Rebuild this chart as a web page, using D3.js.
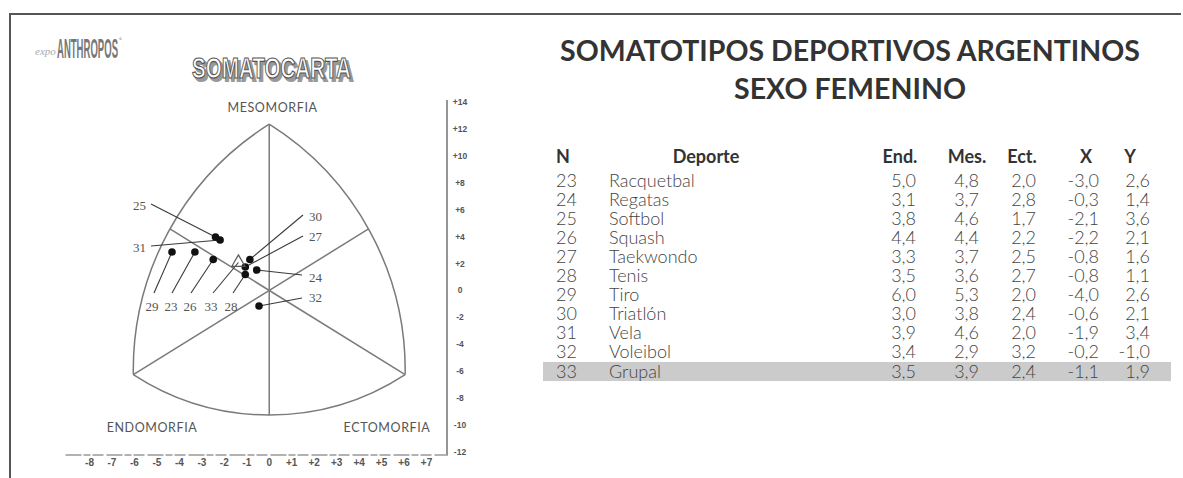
<!DOCTYPE html>
<html>
<head>
<meta charset="utf-8">
<script src="https://cdn.jsdelivr.net/npm/d3@7"></script>
<style>
body { margin: 0; background: #fff; }
svg text { font-family: "Lato", "Open Sans", sans-serif; }
</style>
</head>
<body>
<div id="chart"></div>
<script>
// table rows (N, sport, somatotype components, chart coordinates)
const ids = [23, 24, 25, 26, 27, 28, 29, 30, 31, 32, 33]
const sports = ["Racquetbal", "Regatas", "Softbol", "Squash", "Taekwondo", "Tenis", "Tiro", "Triatlón", "Vela", "Voleibol", "Grupal"]
const endo = [5.0, 3.1, 3.8, 4.4, 3.3, 3.5, 6.0, 3.0, 3.9, 3.4, 3.5]
const meso = [4.8, 3.7, 4.6, 4.4, 3.7, 3.6, 5.3, 3.8, 4.6, 2.9, 3.9]
const ecto = [2.0, 2.8, 1.7, 2.2, 2.5, 2.7, 2.0, 2.4, 2.0, 3.2, 2.4]
const xVals = [-3.0, -0.3, -2.1, -2.2, -0.8, -0.8, -4.0, -0.6, -1.9, -0.2, -1.1]
const yVals = [2.6, 1.4, 3.6, 2.1, 1.6, 1.1, 2.6, 2.1, 3.4, -1.0, 1.9]
const groupId = 33

const xTicks = d3.range(-8, 8)
const yTicks = d3.range(14, -13, -2)
const headers = ["N", "Deporte", "End.", "Mes.", "Ect.", "X", "Y"]

// somatochart outline, in chart units
const apex = [0, 12.35], bottom = [0, -9.25]
const leftC = [-6.05, -6.25], rightC = [6.05, -6.25]
const leftMid = [-4.42, 4.57], rightMid = [4.42, 4.57]

const W = 1183, H = 478
const svg = d3.select("#chart").append("svg")
    .attr("width", W).attr("height", H)
svg.append("rect").attr("width", W).attr("height", H).attr("fill", "#fff")

// page frame
svg.append("path")
    .attr("d", "M10,478 V14 H1181")
    .attr("fill", "none").attr("stroke", "#555").attr("stroke-width", 2)

// scales of the printed axes
const x = d3.scaleLinear().domain([-8, 7]).range([89.5, 426.5])
const y = d3.scaleLinear().domain([-12, 14]).range([452, 102])
// the dots in the original sit a little off the printed ticks, so they get their own scale
const px = d3.scaleLinear().domain([-8, 7]).range([80.4, 423.9])
const py = d3.scaleLinear().domain([-12, 14]).range([471, 81])

const P = p => [x(p[0]), y(p[1])]

function circle3(a, b, c) {
    const d = 2 * (a[0] * (b[1] - c[1]) + b[0] * (c[1] - a[1]) + c[0] * (a[1] - b[1]))
    const A = a[0] * a[0] + a[1] * a[1], B = b[0] * b[0] + b[1] * b[1], C = c[0] * c[0] + c[1] * c[1]
    const ux = (A * (b[1] - c[1]) + B * (c[1] - a[1]) + C * (a[1] - b[1])) / d
    const uy = (A * (c[0] - b[0]) + B * (a[0] - c[0]) + C * (b[0] - a[0])) / d
    return Math.hypot(a[0] - ux, a[1] - uy)
}
function arcPath(s, m, e) {
    s = P(s); m = P(m); e = P(e)
    const r = circle3(s, m, e)
    const cross = (m[0] - s[0]) * (e[1] - m[1]) - (m[1] - s[1]) * (e[0] - m[0])
    return `M${s[0]},${s[1]} A${r},${r} 0 0 ${cross > 0 ? 1 : 0} ${e[0]},${e[1]}`
}

const frame = svg.append("g").attr("fill", "none").attr("stroke", "#7a7a7a").attr("stroke-width", 1.5)
frame.append("path").attr("d", arcPath(apex, leftMid, leftC))
frame.append("path").attr("d", arcPath(apex, rightMid, rightC))
frame.append("path").attr("d", arcPath(leftC, bottom, rightC))
frame.append("path").attr("d", d3.line()([P(apex), P(bottom)]))
frame.append("path").attr("d", d3.line()([P(leftC), P(rightMid)]))
frame.append("path").attr("d", d3.line()([P(rightC), P(leftMid)]))

// axes: right vertical + dashed bottom
svg.append("line")
    .attr("x1", 447).attr("x2", 447).attr("y1", 100).attr("y2", 455)
    .attr("stroke", "#8a8a8a").attr("stroke-width", 1.8)
svg.append("line")
    .attr("x1", x(-8) - 24).attr("x2", 448).attr("y1", 455).attr("y2", 455)
    .attr("stroke", "#999").attr("stroke-width", 1.5).attr("stroke-dasharray", "16,2,7,2,11,3")

svg.append("g").selectAll("text").data(xTicks).join("text")
    .attr("x", d => x(d)).attr("y", 466)
    .attr("text-anchor", "middle")
    .style("font-family", "'Liberation Sans Narrow', 'Liberation Sans', sans-serif")
    .style("font-weight", "bold").style("font-size", "10px").attr("fill", "#555")
    .text(d => d > 0 ? "+" + d : String(d))

svg.append("g").selectAll("text").data(yTicks).join("text")
    .attr("x", 460).attr("y", d => y(d) + 3)
    .attr("text-anchor", "middle")
    .style("font-family", "'Liberation Sans Narrow', 'Liberation Sans', sans-serif")
    .style("font-weight", "bold").style("font-size", "8.5px").attr("fill", "#555")
    .text(d => d > 0 ? "+" + d : String(d))

// corner names
const cornerFont = "'Lato', 'Open Sans', sans-serif"
const corners = [["MESOMORFIA", 272.5, 112], ["ENDOMORFIA", 152, 432], ["ECTOMORFIA", 387, 432]]
svg.append("g").selectAll("text").data(corners).join("text")
    .attr("x", d => d[1]).attr("y", d => d[2])
    .attr("text-anchor", "middle")
    .style("font-family", cornerFont).style("font-size", "12.5px")
    .style("letter-spacing", "0.6px").attr("fill", "#555")
    .text(d => d[0])

// logo + chart title
svg.append("text").attr("x", 35).attr("y", 55)
    .style("font-family", "'Liberation Serif', serif").style("font-style", "italic")
    .style("font-size", "11px").attr("fill", "#aaa").text("expo")
svg.append("text").attr("x", 57).attr("y", 58)
    .style("font-family", "'Liberation Sans Narrow', 'Liberation Sans', sans-serif")
    .style("font-weight", "bold").style("font-size", "28px").attr("fill", "#777")
    .attr("textLength", 61).attr("lengthAdjust", "spacingAndGlyphs").text("ANTHROPOS")
svg.append("text").attr("x", 119).attr("y", 43).style("font-size", "7px").attr("fill", "#888").text("°")

const titleAttrs = sel => sel.attr("y", 78)
    .style("font-family", "'Liberation Sans Narrow', 'Liberation Sans', sans-serif")
    .style("font-weight", "bold").style("font-size", "29px")
    .attr("textLength", 159).attr("lengthAdjust", "spacingAndGlyphs").text("SOMATOCARTA")
svg.append("text").call(titleAttrs).attr("x", 194.5).attr("y", 80.5)
    .attr("fill", "#999").attr("stroke", "#999").attr("stroke-width", 2)
svg.append("text").call(titleAttrs).attr("x", 192)
    .attr("fill", "#fff").attr("stroke", "#555").attr("stroke-width", 1.2)

// data markers
const rows = ids.map((id, i) => ({ id, sport: sports[i], endo: endo[i], meso: meso[i], ecto: ecto[i], X: xVals[i], Y: yVals[i] }))
const byId = Object.fromEntries(rows.map(r => [r.id, r]))

// label placement (pixels): text anchor point, and the end of the leader line next to the text
const callouts = [
    { id: 25, tx: 146, ty: 205, anchor: "end", lx: 151, ly: 204 },
    { id: 31, tx: 146, ty: 247, anchor: "end", lx: 151, ly: 246 },
    { id: 30, tx: 309, ty: 216, anchor: "start", lx: 303, ly: 215 },
    { id: 27, tx: 309, ty: 236, anchor: "start", lx: 303, ly: 236 },
    { id: 24, tx: 309, ty: 277, anchor: "start", lx: 302, ly: 275 },
    { id: 32, tx: 309, ty: 297, anchor: "start", lx: 302, ly: 298 },
    { id: 29, tx: 152, ty: 306, anchor: "middle", lx: 154, ly: 293 },
    { id: 23, tx: 171, ty: 306, anchor: "middle", lx: 172, ly: 293 },
    { id: 26, tx: 190, ty: 306, anchor: "middle", lx: 191, ly: 293 },
    { id: 33, tx: 211, ty: 306, anchor: "middle", lx: 213, ly: 293 },
    { id: 28, tx: 231, ty: 306, anchor: "middle", lx: 233, ly: 293 }
]

svg.append("g").selectAll("line").data(callouts).join("line")
    .attr("x1", d => d.lx).attr("y1", d => d.ly)
    .attr("x2", d => px(byId[d.id].X)).attr("y2", d => py(byId[d.id].Y))
    .attr("stroke", "#3a3a3a").attr("stroke-width", 1.1)

svg.append("g").selectAll("circle").data(rows.filter(r => r.id !== groupId)).join("circle")
    .attr("cx", d => px(d.X)).attr("cy", d => py(d.Y)).attr("r", 3.8)
    .attr("fill", "#111")

svg.append("path")
    .attr("d", d3.symbol(d3.symbolTriangle, 75)())
    .attr("transform", `translate(${px(byId[groupId].X)},${py(byId[groupId].Y)})`)
    .attr("fill", "none").attr("stroke", "#555").attr("stroke-width", 1.2)

svg.append("g").selectAll("text").data(callouts).join("text")
    .attr("x", d => d.tx).attr("y", d => d.ty + 4.5)
    .attr("text-anchor", d => d.anchor)
    .style("font-family", "'Liberation Serif', serif").style("font-size", "13px")
    .attr("fill", "#555")
    .text(d => d.id)

// right side: title and table
const fit = (sel, w) => {
    const n = sel.node(), cur = n.getComputedTextLength()
    const fs = parseFloat(sel.style("font-size"))
    sel.style("font-size", (fs * w / cur) + "px")
}
const tFont = "'Lato', 'Open Sans', sans-serif"
svg.append("text").attr("x", 850).attr("y", 61).attr("text-anchor", "middle")
    .style("font-family", tFont).style("font-weight", 700).style("font-size", "28px")
    .attr("fill", "#333").text("SOMATOTIPOS DEPORTIVOS ARGENTINOS").call(fit, 580)
svg.append("text").attr("x", 850).attr("y", 99).attr("text-anchor", "middle")
    .style("font-family", tFont).style("font-weight", 700).style("font-size", "28px")
    .attr("fill", "#333").text("SEXO FEMENINO").call(fit, 232)

const rowY = d3.scalePoint().domain(ids).range([180, 371])
const bandH = rowY.step()

svg.append("rect")
    .attr("x", 543).attr("width", 628)
    .attr("y", rowY(groupId) - bandH / 2 + 0.5).attr("height", bandH)
    .attr("fill", "#cbcbcb")

// column layout: [anchor, x]
const cols = [["start", 556], ["middle", 706], ["middle", 900], ["middle", 967], ["middle", 1022], ["middle", 1086], ["middle", 1130]]
svg.append("g").selectAll("text").data(headers).join("text")
    .attr("x", (d, i) => cols[i][1]).attr("y", 163)
    .attr("text-anchor", (d, i) => cols[i][0])
    .style("font-family", tFont).style("font-weight", 700).style("font-size", "18px")
    .attr("fill", "#333").text(d => d)

const fmt = v => v.toFixed(1).replace(".", ",")
const cellX = [556, 609, 916, 979, 1036, 1099, 1150]
const cellAnchor = ["start", "start", "end", "end", "end", "end", "end"]
const rowG = svg.append("g").selectAll("g").data(rows).join("g")
    .attr("transform", d => `translate(0,${rowY(d.id)})`)
rowG.selectAll("text")
    .data(d => [String(d.id), d.sport, fmt(d.endo), fmt(d.meso), fmt(d.ecto), fmt(d.X), fmt(d.Y)])
    .join("text")
    .attr("x", (d, i) => cellX[i]).attr("y", 6.5)
    .attr("text-anchor", (d, i) => cellAnchor[i])
    .style("font-family", tFont).style("font-weight", 300).style("font-size", "18px")
    .attr("fill", "#444").text(d => d)
</script>
</body>
</html>
